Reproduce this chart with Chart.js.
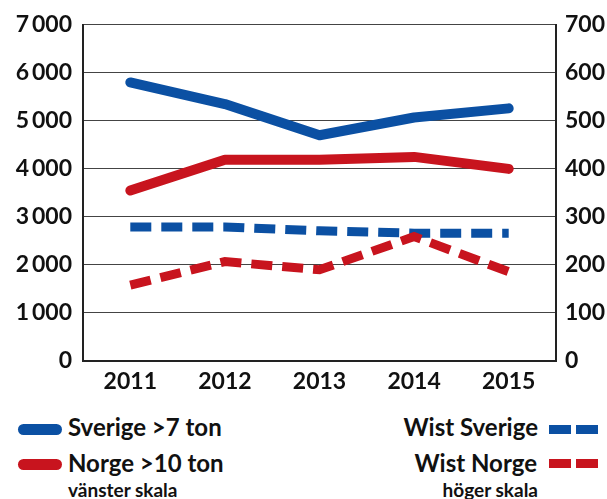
<!DOCTYPE html>
<html>
<head>
<meta charset="utf-8">
<script src="https://cdn.jsdelivr.net/npm/chart.js@4"></script>
<style>
  body { margin: 0; background: #fff; font-family: Lato, sans-serif; font-weight: bold; color: #111; }
  #wrap { position: relative; width: 607px; height: 499px; }
  #box { position: absolute; left: 0; top: 0; width: 607px; height: 400px; }
  .lg { position: absolute; font-size: 24px; line-height: 28px; white-space: nowrap; }
  .small { position: absolute; font-size: 19px; line-height: 22px; white-space: nowrap; }
  .pill { position: absolute; width: 44px; height: 11px; border-radius: 6px; }
  .dash { position: absolute; width: 22px; height: 9px; }
</style>
</head>
<body>
<div id="wrap">
  <div id="box"><canvas id="chart"></canvas></div>

  <div class="pill" style="left:18px;top:424px;background:#0b50a3"></div>
  <div class="lg" style="left:68px;top:413px">Sverige &gt;7 ton</div>
  <div class="pill" style="left:18px;top:459px;background:#c8141e"></div>
  <div class="lg" style="left:68px;top:449px">Norge &gt;10 ton</div>
  <div class="small" style="left:68px;top:479px">vänster skala</div>

  <div class="lg" style="right:69px;top:413px">Wist Sverige</div>
  <div class="dash" style="left:549px;top:425px;background:#0b50a3"></div>
  <div class="dash" style="left:576px;top:425px;background:#0b50a3"></div>
  <div class="lg" style="right:70px;top:449px">Wist Norge</div>
  <div class="dash" style="left:549px;top:459px;background:#c8141e"></div>
  <div class="dash" style="left:576px;top:459px;background:#c8141e"></div>
  <div class="small" style="right:69px;top:479px">höger skala</div>
</div>

<script>
// data
var years = ['2011', '2012', '2013', '2014', '2015'];
var sverige7ton = [5800, 5350, 4700, 5070, 5260];
var norge10ton = [3550, 4190, 4190, 4250, 4000];
var wistSverige = [279, 279, 271, 266, 266];
var wistNorge = [158, 207, 190, 259, 186];

var blue = '#0b50a3';
var red = '#c8141e';

function fmt(v) {
    // 7000 -> "7 000"
    var s = String(v);
    if (s.length > 3) s = s.slice(0, s.length - 3) + '\u2009' + s.slice(-3);
    return s;
}

var tickFont = { family: 'Lato', weight: 'bold', size: 23 };

document.addEventListener('DOMContentLoaded', function () {
    var ctx = document.getElementById('chart').getContext('2d');
    new Chart(ctx, {
        type: 'line',
        data: {
            labels: years,
            datasets: [
                {
                    label: 'Sverige >7 ton',
                    data: sverige7ton,
                    yAxisID: 'y',
                    borderColor: blue,
                    borderWidth: 10,
                    borderCapStyle: 'round',
                    borderJoinStyle: 'round',
                    order: 1
                },
                {
                    label: 'Norge >10 ton',
                    data: norge10ton,
                    yAxisID: 'y',
                    borderColor: red,
                    borderWidth: 10,
                    borderCapStyle: 'round',
                    borderJoinStyle: 'round',
                    order: 2
                },
                {
                    label: 'Wist Norge',
                    data: wistNorge,
                    yAxisID: 'y2',
                    borderColor: red,
                    borderWidth: 9,
                    borderDash: [21, 10],
                    borderCapStyle: 'butt',
                    order: 3
                },
                {
                    label: 'Wist Sverige',
                    data: wistSverige,
                    yAxisID: 'y2',
                    borderColor: blue,
                    borderWidth: 9,
                    borderDash: [21, 10],
                    borderCapStyle: 'butt',
                    order: 4
                }
            ]
        },
        options: {
            responsive: true,
            maintainAspectRatio: false,
            animation: false,
            layout: { padding: { top: 24, left: 0, right: 0, bottom: 0 } },
            elements: { point: { radius: 0 }, line: { tension: 0 } },
            plugins: { legend: { display: false }, tooltip: { enabled: false } },
            scales: {
                x: {
                    offset: true,
                    grid: { display: false, drawTicks: false },
                    border: { color: '#222', width: 2 },
                    ticks: { color: '#111', font: tickFont, padding: 7 },
                    afterFit: function (s) { s.height = 39; }
                },
                y: {
                    position: 'left',
                    min: 0, max: 7000,
                    ticks: { stepSize: 1000, color: '#111', font: tickFont, padding: 11, callback: fmt },
                    grid: { color: '#444', lineWidth: 1, drawTicks: false },
                    border: { color: '#222', width: 2 },
                    afterFit: function (s) { s.width = 83; }
                },
                y2: {
                    position: 'right',
                    min: 0, max: 700,
                    ticks: { stepSize: 100, color: '#111', font: tickFont, padding: 9 },
                    grid: { display: false, drawTicks: false },
                    border: { color: '#222', width: 2 },
                    afterFit: function (s) { s.width = 51; }
                }
            }
        }
    });
});
</script>
</body>
</html>
